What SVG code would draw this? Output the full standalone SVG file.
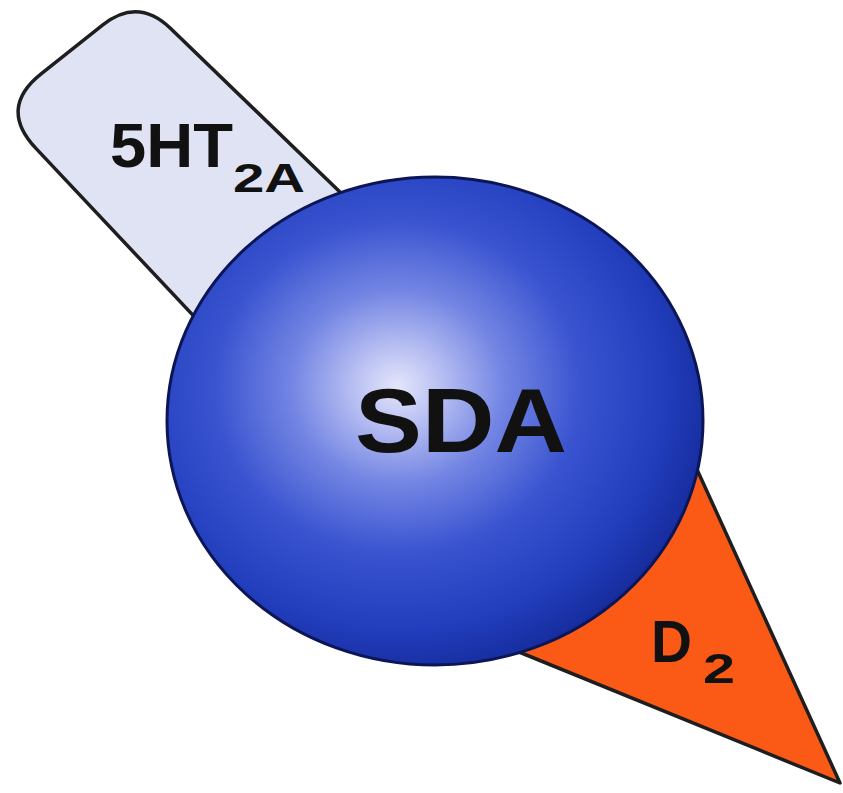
<svg xmlns="http://www.w3.org/2000/svg" width="843" height="793" viewBox="0 0 843 793">
  <defs>
    <radialGradient id="sphereGrad" cx="0.43" cy="0.43" r="0.62" fx="0.43" fy="0.43">
      <stop offset="0" stop-color="#e4e6fb"/>
      <stop offset="0.12" stop-color="#bcc3f3"/>
      <stop offset="0.32" stop-color="#7385e3"/>
      <stop offset="0.55" stop-color="#3a54d0"/>
      <stop offset="0.8" stop-color="#223ebd"/>
      <stop offset="1" stop-color="#142896"/>
    </radialGradient>
  </defs>
  <style>
    .lbl { font-family: "Liberation Sans", Arial, sans-serif; font-weight: bold; fill: #111; }
    .outline { stroke: #1e1e1e; stroke-width: 3.5; stroke-linejoin: round; }
  </style>
  <rect width="843" height="793" fill="#ffffff"/>
  <g id="connectors"/>
  <g id="node-5ht2a">
    <path class="outline" fill="#dfe3f4" d="M 400,250 L 170.4,28.3 Q 138,-3 102.8,24.9 L 41.1,73.8 Q -2,108 35.7,148.1 L 300,429 Z"/>
    <text class="lbl" x="110" y="167" font-size="63" textLength="123" lengthAdjust="spacingAndGlyphs">5HT</text>
    <text class="lbl" x="233" y="192" font-size="40" textLength="72" lengthAdjust="spacingAndGlyphs">2A</text>
  </g>
  <g id="node-d2">
    <polygon class="outline" fill="#fb5a16" points="679,430 840,783 470,632"/>
    <text class="lbl" x="651" y="662" font-size="60" textLength="41" lengthAdjust="spacingAndGlyphs">D</text>
    <text class="lbl" x="703" y="683" font-size="42" textLength="32" lengthAdjust="spacingAndGlyphs">2</text>
  </g>
  <g id="node-sda">
    <ellipse cx="435" cy="421" rx="268" ry="244" fill="url(#sphereGrad)" stroke="#0c1656" stroke-width="3"/>
    <text class="lbl" x="355" y="452" font-size="90" textLength="212" lengthAdjust="spacingAndGlyphs">SDA</text>
  </g>
</svg>
